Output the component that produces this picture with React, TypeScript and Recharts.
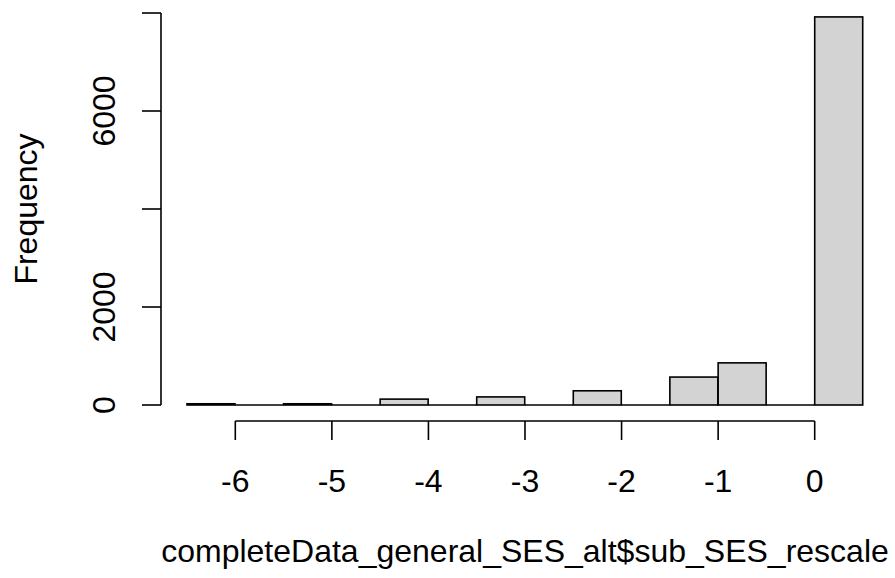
import { BarChart, Bar, XAxis, YAxis } from "recharts"

// bin midpoints (width 0.5) and counts
const binMids = [-6.25, -5.75, -5.25, -4.75, -4.25, -3.75, -3.25, -2.75, -2.25, -1.75, -1.25, -0.75, -0.25, 0.25]
const counts = [25, 0, 25, 0, 120, 0, 165, 0, 290, 0, 570, 860, 0, 7920]

const xTicks = [-6, -5, -4, -3, -2, -1, 0]
const yTicks = [0, 2000, 4000, 6000, 8000]
const yLabelled = [0, 2000, 6000]

const data = binMids.map((mid, i) => ({ mid, count: counts[i] }))

const FONT = "'Liberation Sans', Arial, sans-serif"
const FS = 32

// R draws the x axis only between the first and last tick
const PAD_L = 74.3
const PAD_R = 48.3
const PLOT_W = 702

const HistBar = (props: any) => {
    const { x, y, width, height } = props
    if (!height) {
        return <line x1={x} x2={x + width} y1={y} y2={y} stroke="#000" strokeWidth={1.6} />
    }
    return (
        <rect x={x} y={y} width={width} height={height} fill="#d3d3d3" stroke="#000" strokeWidth={1.6} />
    )
}

const XTick = (props: any) => {
    const { x, y, payload } = props
    return (
        <g>
            <line x1={x} x2={x} y1={y + 16} y2={y + 35} stroke="#000" strokeWidth={1.6} />
            <text x={x} y={y + 87} textAnchor="middle" fontFamily={FONT} fontSize={FS} fill="#000">
                {payload.value}
            </text>
        </g>
    )
}

const YTick = (props: any) => {
    const { x, y, payload } = props
    if (!yLabelled.includes(payload.value)) return <g />
    return (
        <text
            x={x - 27}
            y={y}
            transform={`rotate(-90 ${x - 27} ${y})`}
            textAnchor="middle"
            fontFamily={FONT}
            fontSize={FS}
            fill="#000"
        >
            {payload.value}
        </text>
    )
}

const XTitle = () => (
    <text x={525} y={562} textAnchor="middle" fontFamily={FONT} fontSize={FS} fill="#000">
        completeData_general_SES_alt$sub_SES_rescale
    </text>
)

const YTitle = () => (
    <text x={37} y={209} transform="rotate(-90 37 209)" textAnchor="middle" fontFamily={FONT} fontSize={FS} fill="#000">
        Frequency
    </text>
)

export default function App() {
    return (
        <div style={{ position: "absolute", left: 0, top: 0, background: "#fff" }}>
            <BarChart
                width={895}
                height={578}
                data={data}
                margin={{ top: 13, right: 32, bottom: 0, left: 0 }}
                barCategoryGap={0}
                barGap={0}
            >
                <XAxis xAxisId="bins" dataKey="mid" type="category" hide height={0} padding={{ left: 26, right: 0 }} />
                <XAxis
                    xAxisId="num"
                    dataKey="mid"
                    type="number"
                    domain={[-6, 0]}
                    allowDataOverflow
                    ticks={xTicks}
                    interval={0}
                    height={173}
                    padding={{ left: PAD_L, right: PAD_R }}
                    tickSize={0}
                    tickMargin={0}
                    tickLine={false}
                    axisLine={{
                        stroke: "#000",
                        strokeWidth: 1.6,
                        transform: "translate(0,16)",
                        strokeDasharray: `0 ${PAD_L} ${PLOT_W - PAD_L - PAD_R} 1000`,
                    }}
                    tick={<XTick />}
                    label={<XTitle />}
                />
                <YAxis
                    width={161}
                    domain={[0, 8000]}
                    ticks={yTicks}
                    interval={0}
                    tickSize={19}
                    tickMargin={0}
                    tickLine={{ stroke: "#000", strokeWidth: 1.6 }}
                    axisLine={{ stroke: "#000", strokeWidth: 1.6 }}
                    tick={<YTick />}
                    label={<YTitle />}
                />
                <Bar xAxisId="bins" dataKey="count" shape={<HistBar />} isAnimationActive={false} />
            </BarChart>
        </div>
    )
}
